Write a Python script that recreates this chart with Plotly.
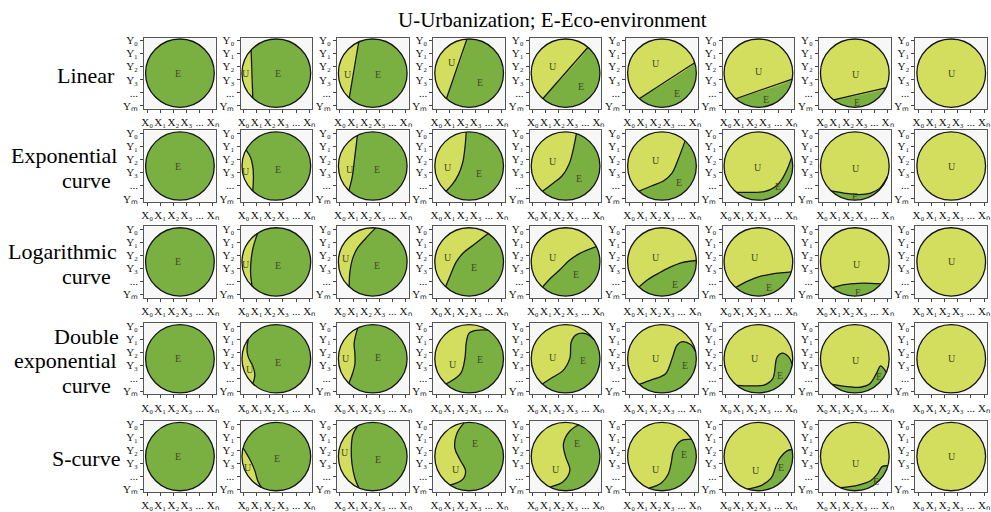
import numpy as np
import plotly.graph_objects as go

# ---------------- data ----------------
TITLE = "U-Urbanization; E-Eco-environment"
ROW_NAMES = [["Linear"], ["Exponential", "curve"], ["Logarithmic", "curve"],
             ["Double", "exponential", "curve"], ["S-curve"]]
Y_TICK_TEXT = ["Y₀", "Y₁", "Y₂", "Y₃", "...", "Yₘ"]
X_TICK_TEXT = ["X₀", "X₁", "X₂", "X₃", "...", "Xₙ"]
TICK_POS = [0.042, 0.225, 0.408, 0.592, 0.775, 0.958]

# boundary curves between U (upper/left side) and E, columns 2..8, points listed start->end
LINEAR = [
    [(0.18, 0.16), (0.11, 0.86)],
    [(0.17, 0.15), (0.30, 0.95)],
    [(0.19, 0.15), (0.47, 0.97)],
    [(0.18, 0.14), (0.81, 0.86)],
    [(0.18, 0.14), (0.97, 0.65)],
    [(0.19, 0.15), (0.95, 0.42)],
    [(0.20, 0.12), (0.96, 0.28)],
]
EXPONENTIAL = [
    [(0.18, 0.16), (0.18, 0.35), (0.17, 0.50), (0.14, 0.62), (0.09, 0.72)],
    [(0.17, 0.16), (0.21, 0.33), (0.24, 0.55), (0.26, 0.72), (0.29, 0.92)],
    [(0.18, 0.15), (0.27, 0.25), (0.35, 0.38), (0.41, 0.55), (0.44, 0.75), (0.46, 0.97)],
    [(0.19, 0.16), (0.34, 0.27), (0.45, 0.36), (0.55, 0.53), (0.60, 0.70), (0.65, 0.95)],
    [(0.18, 0.15), (0.35, 0.22), (0.52, 0.29), (0.64, 0.40), (0.72, 0.58), (0.82, 0.85)],
    [(0.20, 0.14), (0.40, 0.13), (0.58, 0.14), (0.72, 0.20), (0.82, 0.30), (0.90, 0.45), (0.96, 0.62)],
    [(0.17, 0.15), (0.35, 0.12), (0.55, 0.10), (0.72, 0.12), (0.85, 0.19), (0.96, 0.35)],
]
LOGARITHMIC = [
    [(0.16, 0.16), (0.14, 0.35), (0.15, 0.55), (0.18, 0.72), (0.24, 0.90)],
    [(0.17, 0.15), (0.18, 0.35), (0.22, 0.55), (0.29, 0.70), (0.40, 0.83), (0.54, 0.97)],
    [(0.18, 0.16), (0.24, 0.32), (0.32, 0.50), (0.42, 0.63), (0.55, 0.73), (0.76, 0.89)],
    [(0.19, 0.16), (0.30, 0.28), (0.42, 0.39), (0.55, 0.52), (0.70, 0.62), (0.92, 0.71)],
    [(0.18, 0.15), (0.30, 0.25), (0.45, 0.34), (0.60, 0.42), (0.78, 0.49), (0.97, 0.52)],
    [(0.20, 0.16), (0.35, 0.23), (0.50, 0.29), (0.68, 0.33), (0.85, 0.35), (0.96, 0.36)],
    [(0.19, 0.14), (0.35, 0.18), (0.55, 0.20), (0.72, 0.20), (0.88, 0.18)],
]
DOUBLE_EXP = [
    [(0.18, 0.16), (0.20, 0.27), (0.17, 0.40), (0.11, 0.52), (0.09, 0.62), (0.12, 0.77)],
    [(0.17, 0.16), (0.22, 0.30), (0.25, 0.42), (0.25, 0.58), (0.24, 0.72), (0.29, 0.93)],
    [(0.18, 0.15), (0.38, 0.29), (0.44, 0.50), (0.46, 0.73), (0.50, 0.86), (0.60, 0.90), (0.76, 0.90)],
    [(0.19, 0.16), (0.32, 0.24), (0.46, 0.33), (0.56, 0.51), (0.58, 0.74), (0.65, 0.84), (0.79, 0.85), (0.90, 0.77)],
    [(0.18, 0.14), (0.37, 0.21), (0.55, 0.29), (0.64, 0.50), (0.71, 0.69), (0.78, 0.74), (0.90, 0.70), (0.97, 0.60)],
    [(0.20, 0.13), (0.40, 0.12), (0.58, 0.13), (0.70, 0.22), (0.76, 0.52), (0.83, 0.58), (0.92, 0.53), (0.97, 0.42)],
    [(0.18, 0.14), (0.40, 0.11), (0.58, 0.10), (0.71, 0.15), (0.81, 0.31), (0.86, 0.40), (0.94, 0.31)],
]
S_CURVE = [
    [(0.28, 0.05), (0.24, 0.16), (0.20, 0.30), (0.15, 0.42), (0.08, 0.55), (0.04, 0.62)],
    [(0.30, 0.05), (0.25, 0.20), (0.21, 0.40), (0.20, 0.60), (0.22, 0.80), (0.28, 0.94)],
    [(0.24, 0.11), (0.41, 0.18), (0.45, 0.30), (0.37, 0.46), (0.30, 0.62), (0.33, 0.83), (0.43, 0.97)],
    [(0.28, 0.07), (0.47, 0.15), (0.56, 0.31), (0.50, 0.50), (0.47, 0.68), (0.56, 0.86), (0.68, 0.94)],
    [(0.32, 0.06), (0.49, 0.13), (0.59, 0.26), (0.63, 0.42), (0.66, 0.58), (0.76, 0.72), (0.92, 0.75)],
    [(0.35, 0.05), (0.55, 0.10), (0.68, 0.20), (0.74, 0.35), (0.80, 0.48), (0.90, 0.58), (0.97, 0.60)],
    [(0.30, 0.06), (0.55, 0.10), (0.72, 0.16), (0.82, 0.26), (0.88, 0.36), (0.93, 0.38)],
]
CURVES = [LINEAR, EXPONENTIAL, LOGARITHMIC, DOUBLE_EXP, S_CURVE]

# label positions (None = absent), 9 columns per row
U_LABELS = [
    [None, (0.08, 0.49), (0.15, 0.48), (0.26, 0.65), (0.32, 0.60), (0.41, 0.63), (0.51, 0.52), (0.52, 0.48), (0.51, 0.50)],
    [None, (0.08, 0.42), (0.18, 0.45), (0.21, 0.48), (0.32, 0.56), (0.41, 0.58), (0.50, 0.48), (0.52, 0.46), (0.51, 0.50)],
    [None, (0.07, 0.47), (0.12, 0.55), (0.21, 0.56), (0.32, 0.56), (0.41, 0.56), (0.45, 0.56), (0.53, 0.46), (0.51, 0.50)],
    [None, (0.13, 0.35), (0.12, 0.51), (0.27, 0.42), (0.32, 0.52), (0.41, 0.50), (0.45, 0.50), (0.52, 0.48), (0.51, 0.50)],
    [None, (0.11, 0.35), (0.11, 0.56), (0.32, 0.32), (0.36, 0.32), (0.42, 0.32), (0.46, 0.31), (0.51, 0.40), (0.51, 0.50)],
]
E_LABELS = [
    [(0.48, 0.50), (0.52, 0.49), (0.57, 0.48), (0.65, 0.37), (0.72, 0.31), (0.71, 0.21), (0.60, 0.13), (0.53, 0.09), None],
    [(0.48, 0.50), (0.52, 0.45), (0.56, 0.45), (0.64, 0.40), (0.69, 0.32), (0.74, 0.27), (0.78, 0.21), (0.50, 0.07), None],
    [(0.48, 0.50), (0.52, 0.45), (0.56, 0.45), (0.57, 0.42), (0.64, 0.32), (0.68, 0.18), (0.65, 0.14), (0.54, 0.07), None],
    [(0.48, 0.50), (0.52, 0.45), (0.57, 0.52), (0.65, 0.49), (0.74, 0.47), (0.82, 0.41), (0.80, 0.27), (0.84, 0.25), None],
    [(0.48, 0.50), (0.51, 0.47), (0.57, 0.46), (0.58, 0.68), (0.66, 0.68), (0.81, 0.53), (0.82, 0.35), (0.80, 0.15), None],
]

# ---------------- style / layout ----------------
W, H = 991, 512
COL_LEFT = [142 + 97 * c for c in range(9)]
ROW_TOP = [35, 129, 226, 324, 423]
BOX = 72
R = 0.48
GREEN = "#7ab042"
YELLOW = "#d4de5e"
SERIF = "Liberation Serif"
LABEL_SIZE = 22
LINE_H = 25

fig = go.Figure()
layout_axes = {}
shapes = []
annotations = []


def snap(p):
    v = np.array(p) - 0.5
    return 0.5 + v / np.linalg.norm(v) * R


k = 0
for r in range(5):
    for c in range(9):
        k += 1
        xa, ya = f"x{k}", f"y{k}"
        x0 = COL_LEFT[c]
        y0 = ROW_TOP[r]
        common = dict(range=[0, 1], ticks="outside", ticklen=3, tickwidth=1, tickcolor="#444",
                      showline=True, linecolor="#555", linewidth=1, mirror=True,
                      showgrid=False, zeroline=False, fixedrange=True, tickangle=0,
                      tickfont=dict(family=SERIF, size=11, color="#111"))
        layout_axes[f"xaxis{k}"] = dict(domain=[x0 / W, (x0 + BOX) / W], anchor=ya,
                                        tickvals=TICK_POS, ticktext=X_TICK_TEXT, **common)
        layout_axes[f"yaxis{k}"] = dict(domain=[1 - (y0 + BOX) / H, 1 - y0 / H], anchor=xa,
                                        tickvals=TICK_POS[::-1], ticktext=Y_TICK_TEXT, **common)
        base = YELLOW if c == 8 else GREEN
        shapes.append(dict(type="circle", xref=xa, yref=ya, x0=0.5 - R, x1=0.5 + R,
                           y0=0.5 - R, y1=0.5 + R, fillcolor=base, line=dict(width=0),
                           layer="below"))
        if 1 <= c <= 7:
            pts = CURVES[r][c - 1]
            arr = np.array(pts, dtype=float)
            arr[0] = snap(arr[0])
            arr[-1] = snap(arr[-1])
            a_start = np.arctan2(arr[0, 1] - 0.5, arr[0, 0] - 0.5)
            a_end = np.arctan2(arr[-1, 1] - 0.5, arr[-1, 0] - 0.5)
            if a_start <= a_end:
                a_start += 2 * np.pi
            ang = np.linspace(a_end, a_start, 90)[1:-1]
            px = np.concatenate([arr[:, 0], 0.5 + R * np.cos(ang)])
            py = np.concatenate([arr[:, 1], 0.5 + R * np.sin(ang)])
            fig.add_trace(go.Scatter(x=px, y=py, xaxis=xa, yaxis=ya, mode="lines",
                                     fill="toself", fillcolor=YELLOW,
                                     line=dict(width=0, shape="spline", smoothing=1),
                                     hoverinfo="skip", showlegend=False))
            fig.add_trace(go.Scatter(x=arr[:, 0], y=arr[:, 1], xaxis=xa, yaxis=ya,
                                     mode="lines",
                                     line=dict(color="#151515", width=1.3, shape="spline", smoothing=1),
                                     hoverinfo="skip", showlegend=False))
        else:
            fig.add_trace(go.Scatter(x=[0.5], y=[0.5], xaxis=xa, yaxis=ya, mode="markers",
                                     marker=dict(size=1, opacity=0), hoverinfo="skip",
                                     showlegend=False))
        shapes.append(dict(type="circle", xref=xa, yref=ya, x0=0.5 - R, x1=0.5 + R,
                           y0=0.5 - R, y1=0.5 + R, line=dict(color="#151515", width=1.3),
                           layer="above"))
        for lab, pos in (("U", U_LABELS[r][c]), ("E", E_LABELS[r][c])):
            if pos is not None:
                annotations.append(dict(x=pos[0], y=pos[1], xref=xa, yref=ya, text=lab,
                                        showarrow=False,
                                        font=dict(family=SERIF, size=10, color="#3f4a22")))

# row labels: short lines centred, long lines pushed flush against the panels
for r, lines in enumerate(ROW_NAMES):
    mid = ROW_TOP[r] + BOX / 2 + 2
    n = len(lines)
    for i, txt in enumerate(lines):
        yc = mid + (i - (n - 1) / 2) * LINE_H
        long = len(txt) > 8
        annotations.append(dict(x=(117 if long else 84) / W, y=1 - yc / H,
                                xref="paper", yref="paper", text=txt, showarrow=False,
                                xanchor="right" if long else "center", yanchor="middle",
                                font=dict(family=SERIF, size=LABEL_SIZE, color="#000")))

annotations.append(dict(x=553 / W, y=1 - 17 / H, xref="paper", yref="paper", text=TITLE,
                        showarrow=False, xanchor="center", yanchor="middle",
                        font=dict(family=SERIF, size=21, color="#000")))

fig.update_layout(width=W, height=H, margin=dict(l=0, r=0, t=0, b=0),
                  paper_bgcolor="#ffffff", plot_bgcolor="#f7f7f7",
                  shapes=shapes, annotations=annotations, showlegend=False, **layout_axes)

fig.write_html("out.html", config={"displayModeBar": False},
               post_script="document.body.style.margin='0px';document.body.style.overflow='hidden';")
